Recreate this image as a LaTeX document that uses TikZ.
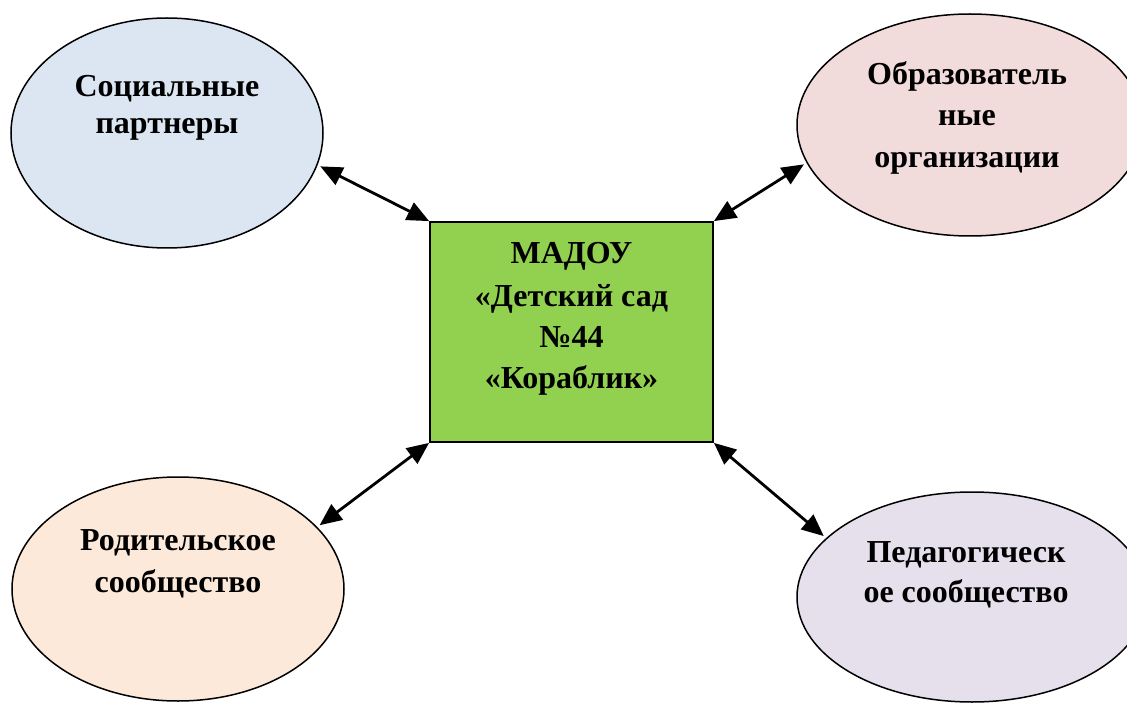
\documentclass[tikz,border=0pt]{standalone}
\usepackage{fontspec}
\setmainfont{Liberation Serif}
\usetikzlibrary{shapes.geometric,arrows.meta}
\definecolor{cblue}{HTML}{DCE6F2}
\definecolor{cpink}{HTML}{F2DCDB}
\definecolor{cpeach}{HTML}{FDE9D9}
\definecolor{clilac}{HTML}{E5E0EC}
\definecolor{cgreen}{HTML}{92D050}
\begin{document}
\begin{tikzpicture}[x=1pt,y=-1pt,
  bub/.style={ellipse,draw=black,line width=1.5pt,inner sep=0pt},
  lbl/.style={anchor=base,inner sep=0pt,font=\fontsize{32}{37}\selectfont\bfseries},
  link/.style={line width=2.8pt,shorten >=3pt,{Triangle[length=22pt,width=19pt]}-{Triangle[length=22pt,width=19pt]}}]
\useasboundingbox (0,0) rectangle (1127,703);
% ellipses
\node[bub,fill=cblue,minimum width=312pt,minimum height=230pt] (tl) at (167,133) {};
\node[bub,fill=cpink,minimum width=346pt,minimum height=222pt] (tr) at (970,125) {};
\node[bub,fill=cpeach,minimum width=332pt,minimum height=224pt] (bl) at (178,589) {};
\node[bub,fill=clilac,minimum width=350pt,minimum height=210pt] (br) at (972,597) {};
% centre box
\node[draw=black,line width=1.8pt,fill=cgreen,minimum width=283pt,minimum height=220pt,inner sep=0pt] (mid) at (571.5,332) {};
% labels
\node[lbl] (tla) at (167,97) {Социальные};
\node[lbl] (tlb) at (167,134) {партнеры};
\node[lbl] (tra) at (967,85) {Образователь};
\node[lbl] (trb) at (967,126) {ные};
\node[lbl] (trc) at (967,168) {организации};
\node[lbl] (bla) at (178,550) {Родительское};
\node[lbl] (blb) at (178,592) {сообщество};
\node[lbl] (bra) at (966,562) {Педагогическ};
\node[lbl] (brb) at (966,602) {ое сообщество};
\node[lbl] (ma) at (571.5,264) {МАДОУ};
\node[lbl] (mb) at (571.5,306) {«Детский сад};
\node[lbl] (mc) at (571.5,347) {№44};
\node[lbl] (md) at (571.5,388) {«Кораблик»};
% connectors
\draw[link] (mid.north west) -- (tl.-12);
\draw[link] (mid.north east) -- (tr.-167);
\draw[link] (mid.south west) -- (bl.24);
\draw[link] (mid.south east) -- (br.158);
\end{tikzpicture}
\end{document}
